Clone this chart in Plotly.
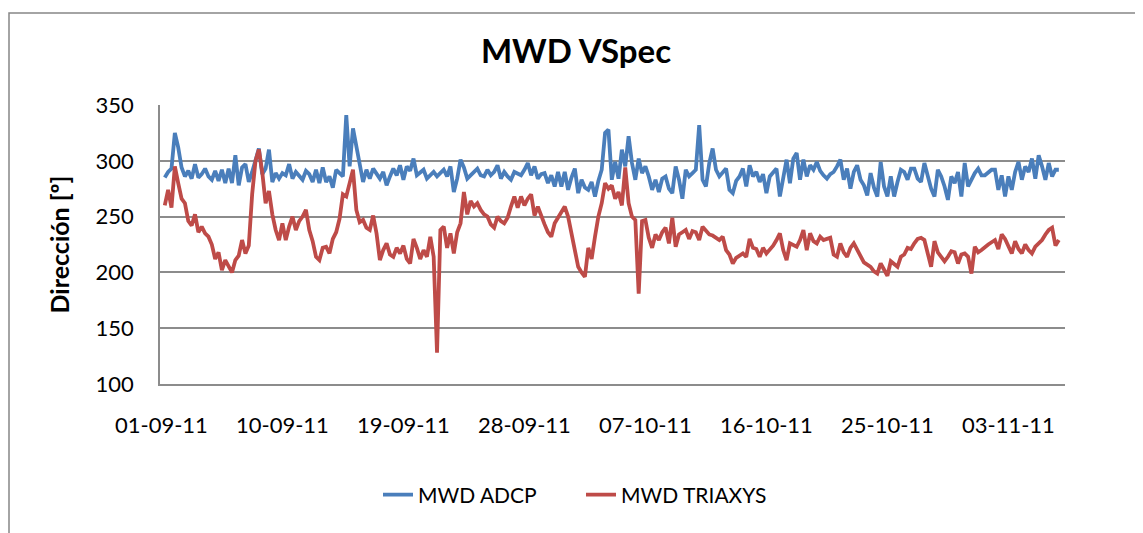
import pandas as pd
import plotly.graph_objects as go

# 6-hourly samples, 01-09-11 06:00 -> 06-11-11 18:00
times = pd.date_range("2011-09-01 06:00", periods=267, freq="6h")

mwd_adcp = [
    285, 290, 293,
    325, 312, 294, 286,  291, 284, 297, 285,  288, 293, 286, 283,  291, 282, 292, 280,
    293, 280, 305, 278,  294, 297, 281, 290,  300, 311, 288, 293,  310, 281, 289, 284,
    289, 287, 297, 284,  290, 287, 283, 291,  288, 281, 292, 280,  294, 281, 286, 276,
    292, 289, 286, 341,  295, 329, 312, 296,  281, 292, 284, 293,  289, 284, 290, 278,
    286, 293, 287, 296,  283, 295, 291, 302,  287, 290, 292, 284,  287, 290, 286, 289,
    292, 286, 295, 272,  284, 301, 294, 284,  287, 290, 293, 287,  286, 292, 287, 290,
    296, 284, 290, 286,  283, 290, 288, 287,  292, 298, 287, 295,  284, 288, 289, 280,
    287, 277, 290, 277,  290, 274, 285, 293,  271, 283, 276, 274,  281, 268, 282, 292,
    325, 328, 283, 299,  284, 310, 295, 322,  298, 283, 302, 289,  295, 286, 274, 283,
    272, 284, 286, 275,  271, 295, 283, 266,  292, 286, 289, 292,  332, 283, 277, 298,
    311, 292, 286, 290,  293, 274, 271, 282,  286, 293, 277, 296,  286, 290, 281, 288,
    271, 286, 290, 293,  268, 286, 301, 280,  302, 307, 283, 301,  286, 296, 292, 299,
    291, 287, 284, 288,  290, 295, 301, 283,  293, 275, 290, 296,  283, 278, 269, 289,
    276, 268, 299, 277,  268, 286, 268, 281,  292, 290, 283, 293,  293, 284, 281, 298,
    286, 275, 268, 292,  286, 277, 265, 286,  280, 290, 268, 298,  277, 284, 289, 293,
    287, 287, 289, 292,  292, 274, 287, 268,  286, 274, 290, 299,  283, 295, 290, 302,
    284, 305, 295, 283,  298, 286, 292, 292,
]

mwd_triaxys = [
    260, 274, 258,
    295, 280, 266, 262,  246, 242, 252, 236,  241, 235, 232, 225,  212, 218, 202, 211,
    206, 200, 211, 215,  229, 217, 224, 270,  300, 310, 290, 262,  273, 252, 238, 229,
    244, 229, 241, 250,  238, 246, 250, 256,  238, 228, 214, 211,  222, 223, 217, 230,
    236, 248, 270, 268,  280, 292, 256, 245,  247, 240, 238, 251,  235, 211, 220, 226,
    216, 214, 222, 217,  224, 212, 208, 230,  222, 212, 220, 214,  232, 214, 128, 238,
    241, 222, 235, 217,  236, 244, 272, 252,  264, 259, 262, 256,  252, 250, 243, 240,
    250, 246, 244, 249,  259, 268, 258, 268,  260, 266, 270, 251,  259, 250, 243, 236,
    232, 244, 249, 253,  259, 250, 234, 219,  205, 200, 196, 222,  212, 232, 250, 262,
    280, 275, 278, 266,  272, 260, 294, 262,  250, 247, 181, 246,  247, 231, 222, 234,
    229, 236, 240, 226,  249, 223, 234, 236,  238, 230, 237, 236,  229, 241, 238, 234,
    233, 231, 229, 232,  220, 216, 208, 213,  215, 217, 214, 230,  222, 221, 214, 222,
    217, 220, 224, 229,  235, 220, 211, 226,  224, 223, 229, 238,  220, 235, 228, 226,
    232, 229, 230, 231,  216, 214, 226, 218,  214, 222, 226, 220,  214, 209, 207, 205,
    201, 199, 208, 203,  197, 210, 208, 205,  214, 216, 222, 221,  226, 230, 231, 229,
    217, 205, 228, 218,  214, 210, 214, 219,  218, 208, 216, 217,  214, 199, 223, 218,
    220, 223, 225, 227,  229, 221, 234, 230,  224, 217, 228, 221,  217, 225, 220, 217,
    223, 226, 229, 234,  238, 240, 224, 229,
]

tick_dates = ["2011-09-01", "2011-09-10", "2011-09-19", "2011-09-28",
              "2011-10-07", "2011-10-16", "2011-10-25", "2011-11-03"]
tick_labels = ["01-09-11", "10-09-11", "19-09-11", "28-09-11",
               "07-10-11", "16-10-11", "25-10-11", "03-11-11"]

BLUE = "#4A7EBB"
RED = "#BE4B48"
GRID = "#8C8C8C"

fig = go.Figure()
fig.add_trace(go.Scatter(x=times, y=mwd_adcp, mode="lines", name="MWD ADCP",
                         line=dict(color=BLUE, width=3.8)))
fig.add_trace(go.Scatter(x=times, y=mwd_triaxys, mode="lines", name="MWD TRIAXYS",
                         line=dict(color=RED, width=3.8)))

# page body has an 8px margin, so figure coords = screen coords - 8
W, H = 1135, 525
L, R, T, B = 152, 1135 - 1057, 97, 525 - 376
pw, ph = W - L - R, H - T - B

fig.update_layout(
    width=W, height=H,
    margin=dict(l=L, r=R, t=T, b=B),
    paper_bgcolor="white", plot_bgcolor="white",
    font=dict(family="Lato, sans-serif", size=22, color="black"),
    title=dict(text="<b>MWD VSpec</b>", x=(576 - 8) / W, xref="container", xanchor="center",
               y=1 - 43 / H, yanchor="middle", font=dict(size=33)),
    showlegend=True,
    legend=dict(orientation="h", x=(581 - 8) / W, xref="container", xanchor="center",
                y=1 - 487 / H, yref="container", yanchor="middle",
                font=dict(size=21), entrywidth=158, traceorder="normal"),
    xaxis=dict(type="date", range=["2011-08-31 21:30", "2011-11-07 05:00"],
               tickvals=tick_dates, ticktext=tick_labels, showgrid=False,
               showline=True, linecolor=GRID, linewidth=1.5, ticks="",
               ticklabelstandoff=21, zeroline=False),
    yaxis=dict(range=[100, 350], dtick=50, showgrid=True, gridcolor=GRID, gridwidth=1.5,
               showline=True, linecolor=GRID, linewidth=1.5, ticks="",
               ticklabelstandoff=20, zeroline=False,
               title=dict(text="<b>Dirección [º]</b>", font=dict(size=25), standoff=19)),
    shapes=[dict(type="rect", xref="paper", yref="paper",
                 x0=(1 - L) / pw, x1=(1133 - L) / pw,
                 y0=(376 - 540) / ph, y1=(376 - 5) / ph,
                 line=dict(color="#868686", width=1.5), fillcolor="rgba(0,0,0,0)",
                 layer="below")],
)

fig.write_html("out.html")
